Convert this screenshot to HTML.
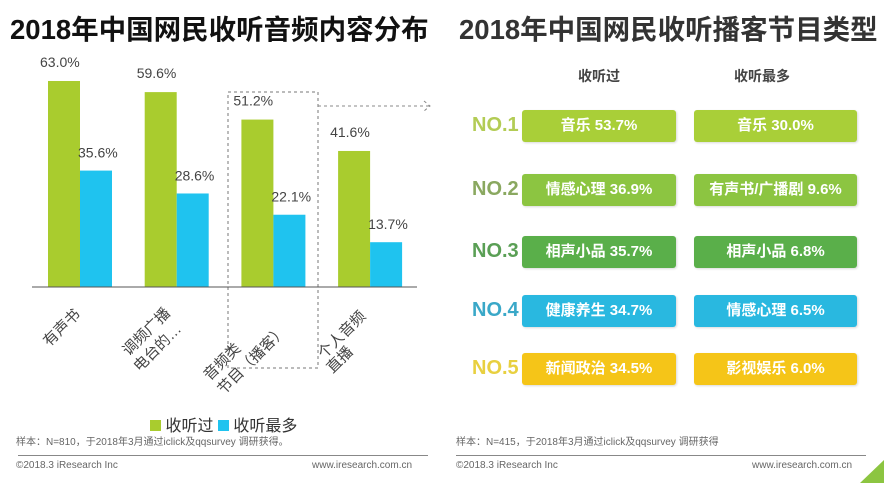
<!DOCTYPE html>
<html><head><meta charset="utf-8"><style>
body{margin:0;width:884px;height:483px;background:#fff;overflow:hidden;font-family:"Liberation Sans","Noto Sans CJK SC",sans-serif;position:relative}
.abs{position:absolute}
.t{font-weight:bold;font-size:27.5px;white-space:nowrap;line-height:32px}
.box{position:absolute;color:#fff;font-weight:bold;font-size:15px;text-align:center;border-radius:3px;line-height:32px;height:32px;box-shadow:1px 1px 2px rgba(0,0,0,.15)}
.no{position:absolute;font-weight:bold;font-size:20px;left:472px}
.small{font-size:10px;color:#666;white-space:nowrap}
</style></head><body>
<div class="abs t" style="left:10px;top:14px;color:#111">2018年中国网民收听音频内容分布</div>
<div class="abs t" style="left:459px;top:14px;color:#333">2018年中国网民收听播客节目类型</div>

<svg class="abs" style="left:0;top:0" width="440" height="483" id="chart"></svg>

<div class="abs" style="left:150px;top:412px;font-size:16px;color:#333;white-space:nowrap">
<span><span style="display:inline-block;width:11px;height:11px;background:#a9cc2e"></span> 收听过</span>
<span><span style="display:inline-block;width:11px;height:11px;background:#1fc3ef"></span> 收听最多</span>
</div>
<div class="abs small" style="left:16px;top:433px">样本：N=810，于2018年3月通过iclick及qqsurvey 调研获得。</div>
<div class="abs" style="left:18px;top:455px;width:410px;height:1px;background:#888"></div>
<div class="abs small" style="left:16px;top:460px">©2018.3 iResearch Inc</div>
<div class="abs small" style="left:312px;top:460px">www.iresearch.com.cn</div>

<div class="abs" style="left:578px;top:66px;font-size:14px;font-weight:bold;color:#444">收听过</div>
<div class="abs" style="left:734px;top:66px;font-size:14px;font-weight:bold;color:#444">收听最多</div>
<div id="rank"></div>

<div class="abs small" style="left:456px;top:433px">样本：N=415，于2018年3月通过iclick及qqsurvey 调研获得</div>
<div class="abs" style="left:456px;top:455px;width:410px;height:1px;background:#888"></div>
<div class="abs small" style="left:456px;top:460px">©2018.3 iResearch Inc</div>
<div class="abs small" style="left:752px;top:460px">www.iresearch.com.cn</div>
<svg class="abs" style="left:860px;top:460px" width="24" height="23"><polygon points="24,0 24,23 0,23" fill="#8cc541"/></svg>

<script>
const categories=["有声书","调频广播\n电台的…","音频类\n节目（播客）","个人音频\n直播"];
const heardValues=[63.0,59.6,51.2,41.6];
const mostValues=[35.6,28.6,22.1,13.7];
const rankHeard=["音乐 53.7%","情感心理 36.9%","相声小品 35.7%","健康养生 34.7%","新闻政治 34.5%"];
const rankMost=["音乐 30.0%","有声书/广播剧 9.6%","相声小品 6.8%","情感心理 6.5%","影视娱乐 6.0%"];
const rankLabels=["NO.1","NO.2","NO.3","NO.4","NO.5"];

const NS="http://www.w3.org/2000/svg";
const svg=document.getElementById('chart');
const base=287, scale=3.27;
const y=v=>base-v*scale;
const x=i=>48+i*96.7;
// per-line label placement offsets (style, relative to group center)
const labelOffsets=[[[-18,41]],[[-30,45],[-19,61]],[[-51,75],[-21,73]],[[-28,48],[-30,73]]];
function mk(tag,attrs){const e=document.createElementNS(NS,tag);for(const k in attrs)e.setAttribute(k,attrs[k]);svg.appendChild(e);return e;}
let d=mk('path',{d:"M228,368 V92 H318 V368 H228",fill:"none",stroke:"#777","stroke-dasharray":"3,3","stroke-width":"1"});


let a=mk('path',{d:"M318,106 H430 M424,101 L430,106 L424,111",fill:"none",stroke:"#888","stroke-dasharray":"3,3"});


categories.forEach((c,i)=>{
  let g=mk('rect',{x:x(i),y:y(heardValues[i]),width:32,height:heardValues[i]*scale,fill:"#a9cc2e"});
  
  
  let b=mk('rect',{x:x(i)+32,y:y(mostValues[i]),width:32,height:mostValues[i]*scale,fill:"#1fc3ef"});
  
  
  let t1=mk('text',{x:x(i)-8,y:y(heardValues[i])-14,"font-size":"14",fill:"#444"});
  t1.textContent=heardValues[i].toFixed(1)+"%";
  
  
  let t2=mk('text',{x:x(i)+30,y:y(mostValues[i])-13,"font-size":"14",fill:"#444"});
  t2.textContent=mostValues[i].toFixed(1)+"%";
  
  
  const cx=x(i)+32;
  c.split("\n").forEach((l,j)=>{
    const o=labelOffsets[i][j];
    const px=cx+o[0], py=base+o[1];
    let t=mk('text',{x:px,y:py,transform:`rotate(-45 ${px} ${py})`,"font-size":"15",fill:"#444","text-anchor":"middle","dominant-baseline":"central"});
    t.textContent=l;
    
    
  });
});
let ax=mk('line',{x1:32,x2:417,y1:base,y2:base,stroke:"#555","stroke-width":"1"});



const colors=["#a9cf38","#8cc541","#5aaf4a","#29b8e0","#f5c518"];
const labelColors=["#b3cc55","#8aa860","#5a9f55","#3aa8c8","#e8d040"];
const tops=[110,174,236,295,353];
const rk=document.getElementById('rank');
rankLabels.forEach((l,i)=>{
  const n=document.createElement('div');n.className='no';n.style.top=(tops[i]+4)+'px';n.style.color=labelColors[i];n.textContent=l;
  
  
  rk.appendChild(n);
  const b1=document.createElement('div');b1.className='box';b1.style.cssText+=`left:522px;top:${tops[i]}px;width:154px;background:${colors[i]}`;b1.textContent=rankHeard[i];
  
  
  rk.appendChild(b1);
  const b2=document.createElement('div');b2.className='box';b2.style.cssText+=`left:694px;top:${tops[i]}px;width:163px;background:${colors[i]}`;b2.textContent=rankMost[i];
  
  
  rk.appendChild(b2);
});
</script>
</body></html>
